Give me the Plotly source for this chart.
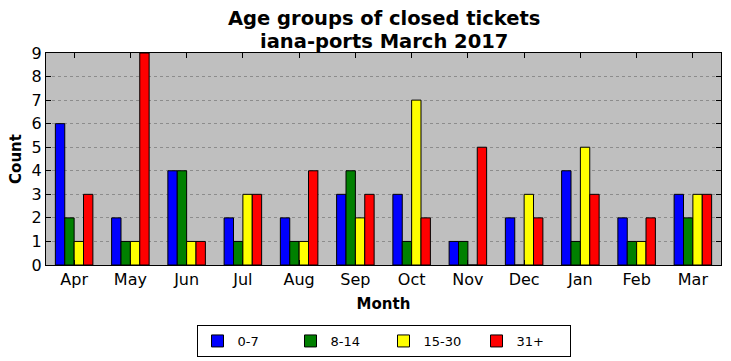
import plotly.graph_objects as go

months = ["Apr", "May", "Jun", "Jul", "Aug", "Sep", "Oct", "Nov", "Dec", "Jan", "Feb", "Mar"]
age_0_7 = [6, 2, 4, 2, 2, 3, 3, 1, 2, 4, 2, 3]
age_8_14 = [2, 1, 4, 1, 1, 4, 1, 1, 0, 1, 1, 2]
age_15_30 = [1, 1, 1, 3, 1, 2, 7, 0, 3, 5, 1, 3]
age_31p = [3, 9, 1, 3, 4, 3, 2, 5, 2, 3, 2, 3]

series = [("0-7", age_0_7, "#0000ff"), ("8-14", age_8_14, "#008000"),
          ("15-30", age_15_30, "#ffff00"), ("31+", age_31p, "#ff0000")]

fig = go.Figure()
for name, vals, col in series:
    fig.add_trace(go.Bar(x=months, y=vals, name=name, marker_color=col,
                         marker_line_color="black", marker_line_width=1))

font = "DejaVu Sans"
fig.update_layout(
    width=731, height=361,
    margin=dict(l=46, r=10, t=53, b=96),
    paper_bgcolor="white", plot_bgcolor="#bfbfbf",
    barmode="group", bargap=0.333, bargroupgap=0,
    font=dict(family=font, color="black"),
    xaxis=dict(title=dict(text="<b>Month</b>", font=dict(size=15), standoff=10),
               automargin=False,
               showline=True, linecolor="black", linewidth=1, mirror="ticks",
               ticks="inside", ticklen=5, tickcolor="black",
               tickfont=dict(size=16), range=[-0.5, 11.5]),
    yaxis=dict(title=dict(text="<b>Count</b>", font=dict(size=15), standoff=6),
               automargin=False,
               range=[0, 9], dtick=1, showline=True, linecolor="black", linewidth=1,
               mirror="ticks", ticks="inside", ticklen=5, tickcolor="black",
               tickfont=dict(size=16),
               showgrid=True, gridcolor="#8c8c8c", griddash="dot", gridwidth=1,
               zeroline=False),
    legend=dict(orientation="h", x=(201 + 566) / 2 / 731, xanchor="center", xref="container",
                y=1 - 325 / 361, yanchor="top", yref="container",
                bordercolor="black", borderwidth=1, font=dict(size=13),
                entrywidth=48, entrywidthmode="pixels", traceorder="normal"),
)
for txt, ypx in [("<b>Age groups of closed tickets</b>", 19), ("<b>iana-ports March 2017</b>", 41)]:
    fig.add_annotation(text=txt, x=0.5, xref="paper", xanchor="center",
                       y=1 + (53 - ypx) / 212, yref="paper", yanchor="middle",
                       showarrow=False, font=dict(size=19.5, family=font))

fig.write_html("out.html", config={"displayModeBar": False},
               post_script="document.body.style.margin='0';")
